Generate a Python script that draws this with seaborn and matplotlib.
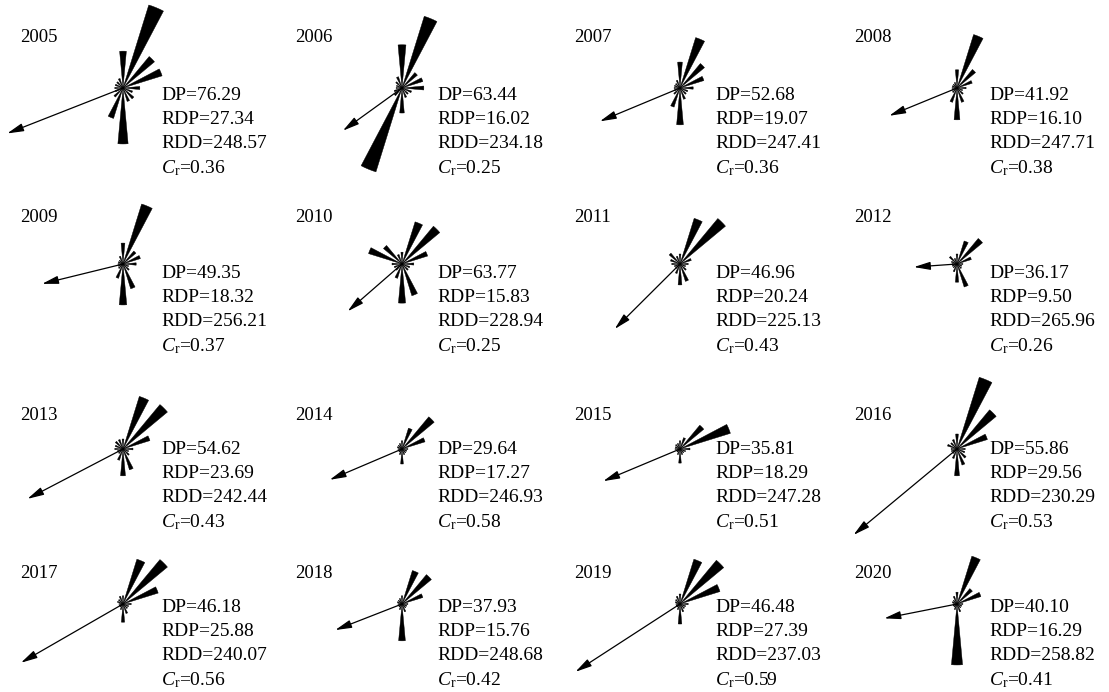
import numpy as np
import pandas as pd
import seaborn as sns
import matplotlib.pyplot as plt

sns.set_theme(style="white")
plt.rcParams['font.family'] = ['Liberation Serif', 'DejaVu Serif']
plt.rcParams['mathtext.fontset'] = 'custom'
plt.rcParams['mathtext.rm'] = 'Liberation Serif'
plt.rcParams['mathtext.it'] = 'Liberation Serif:italic'

# 16 compass directions, clockwise from north
directions = ['N', 'NNE', 'NE', 'ENE', 'E', 'ESE', 'SE', 'SSE',
              'S', 'SSW', 'SW', 'WSW', 'W', 'WNW', 'NW', 'NNW']

# Drift potential per direction (VU)
rose_2005 = [8.1, 19.1, 9.0, 9.0, 3.7, 2.2, 3.1, 3.1, 12.3, 7.0, 2.6, 1.8, 1.8, 1.8, 1.8, 2.2]
rose_2006 = [9.5, 16.5, 4.4, 4.8, 4.8, 2.2, 1.8, 2.2, 5.5, 19.3, 2.2, 1.8, 1.3, 1.3, 1.8, 2.6]
rose_2007 = [5.7, 11.6, 7.0, 5.5, 2.9, 1.8, 1.8, 2.6, 8.1, 4.4, 1.8, 1.3, 1.3, 1.3, 1.3, 1.8]
rose_2008 = [4.0, 12.3, 5.3, 3.5, 2.0, 1.3, 1.8, 3.3, 7.0, 3.3, 1.3, 1.1, 1.1, 1.1, 1.1, 1.3]
rose_2009 = [4.6, 13.8, 3.7, 4.0, 2.9, 1.3, 1.8, 5.7, 9.0, 3.3, 1.3, 1.1, 1.1, 1.1, 1.1, 1.8]
rose_2010 = [2.6, 9.7, 10.8, 5.9, 2.6, 1.8, 1.8, 7.3, 8.6, 3.3, 1.8, 1.8, 2.2, 7.7, 5.3, 2.2]
rose_2011 = [2.2, 10.5, 13.0, 2.6, 1.8, 1.3, 1.8, 4.0, 4.6, 2.2, 1.3, 1.3, 1.8, 2.2, 3.1, 1.8]
rose_2012 = [2.2, 5.3, 7.3, 3.3, 1.3, 1.1, 1.3, 5.3, 4.0, 1.8, 1.1, 1.1, 1.1, 1.3, 2.2, 1.3]
rose_2013 = [2.2, 12.1, 12.7, 6.2, 2.2, 1.3, 1.8, 4.8, 5.9, 2.6, 1.3, 1.3, 1.8, 1.8, 2.2, 2.2]
rose_2014 = [1.8, 4.8, 9.2, 5.3, 1.3, 1.1, 1.1, 1.3, 3.3, 1.3, 0.9, 0.9, 0.9, 1.1, 1.1, 1.3]
rose_2015 = [1.8, 2.6, 6.8, 11.6, 2.2, 1.3, 1.1, 1.3, 3.1, 1.3, 0.9, 0.9, 1.1, 1.1, 1.3, 1.3]
rose_2016 = [3.3, 16.5, 11.2, 7.0, 1.8, 1.8, 2.6, 3.7, 5.9, 2.2, 1.3, 1.3, 1.3, 2.2, 1.8, 2.2]
rose_2017 = [1.8, 10.3, 12.7, 8.1, 1.8, 1.3, 1.3, 2.2, 4.0, 1.3, 0.9, 0.9, 0.9, 1.3, 1.3, 1.8]
rose_2018 = [1.8, 7.7, 8.4, 4.8, 1.3, 1.1, 1.1, 1.8, 8.1, 1.3, 0.9, 0.9, 0.9, 1.1, 1.1, 1.3]
rose_2019 = [2.2, 10.3, 12.5, 9.2, 1.8, 1.3, 1.3, 1.8, 4.4, 1.3, 0.9, 0.9, 0.9, 1.1, 1.3, 1.8]
rose_2020 = [2.6, 11.0, 4.4, 5.5, 1.3, 1.1, 1.1, 1.8, 13.4, 1.3, 0.9, 0.9, 0.9, 1.1, 1.1, 1.8]

years = [2005, 2006, 2007, 2008, 2009, 2010, 2011, 2012,
         2013, 2014, 2015, 2016, 2017, 2018, 2019, 2020]
DP = [76.29, 63.44, 52.68, 41.92, 49.35, 63.77, 46.96, 36.17,
      54.62, 29.64, 35.81, 55.86, 46.18, 37.93, 46.48, 40.10]
RDP = [27.34, 16.02, 19.07, 16.10, 18.32, 15.83, 20.24, 9.50,
       23.69, 17.27, 18.29, 29.56, 25.88, 15.76, 27.39, 16.29]
RDD = [248.57, 234.18, 247.41, 247.71, 256.21, 228.94, 225.13, 265.96,
       242.44, 246.93, 247.28, 230.29, 240.07, 248.68, 237.03, 258.82]
CR = [0.36, 0.25, 0.36, 0.38, 0.37, 0.25, 0.43, 0.26,
      0.43, 0.58, 0.51, 0.53, 0.56, 0.42, 0.59, 0.41]

roses = [rose_2005, rose_2006, rose_2007, rose_2008, rose_2009, rose_2010,
         rose_2011, rose_2012, rose_2013, rose_2014, rose_2015, rose_2016,
         rose_2017, rose_2018, rose_2019, rose_2020]

long_df = pd.DataFrame(
    [(y, d, v) for y, r in zip(years, roses) for d, v in zip(directions, r)],
    columns=['year', 'direction', 'dp'])
long_df['theta'] = long_df['direction'].map(
    {d: np.deg2rad(22.5 * i) for i, d in enumerate(directions)})

W, H = 1109, 692
fig = plt.figure(figsize=(W / 100, H / 100), dpi=100)
fig.patch.set_facecolor('white')

# layout in pixels
col_cx = [123, 402, 680, 957]
row_cy = [88, 264, 449, 604]
year_x = [20, 295, 574, 854]
stat_x = [161, 437, 715, 989]
year_y = [38, 218, 416, 574]
stat_y = [95, 273, 449, 607]
line_gap = 24.3

R_PX = 150
PX_PER_VU = 4.55
rmax = R_PX / PX_PER_VU
wedge_w = np.deg2rad(10.5)

for k, yr in enumerate(years):
    row, col = divmod(k, 4)
    cx, cy = col_cx[col], row_cy[row]
    ax = fig.add_axes([(cx - R_PX) / W, 1 - (cy + R_PX) / H, 2 * R_PX / W, 2 * R_PX / H],
                      projection='polar')
    ax.set_theta_zero_location('N')
    ax.set_theta_direction(-1)
    sub = long_df[long_df['year'] == yr]
    ax.bar(sub['theta'], sub['dp'], width=wedge_w, bottom=0,
           color='black', edgecolor='black', linewidth=0.3, clip_on=False)
    ax.annotate('', xy=(np.deg2rad(RDD[k]), RDP[k]), xytext=(0, 0),
                arrowprops=dict(arrowstyle='-|>,head_length=0.9,head_width=0.22',
                                color='black', lw=0.9, mutation_scale=11,
                                shrinkA=0, shrinkB=0),
                annotation_clip=False)
    ax.set_ylim(0, rmax)
    ax.axis('off')
    ax.patch.set_alpha(0)

    fig.text(year_x[col] / W, 1 - year_y[row] / H, str(yr),
             fontsize=13.5, va='center', ha='left', color='black')
    lines = [f'DP={DP[k]:.2f}', f'RDP={RDP[k]:.2f}', f'RDD={RDD[k]:.2f}',
             r'$C_\mathrm{r}$' + f'={CR[k]:.2f}']
    for j, s in enumerate(lines):
        fig.text(stat_x[col] / W, 1 - (stat_y[row] + j * line_gap) / H, s,
                 fontsize=14, va='center', ha='left', color='black')

fig.savefig('out.png', dpi=100, facecolor='white')
